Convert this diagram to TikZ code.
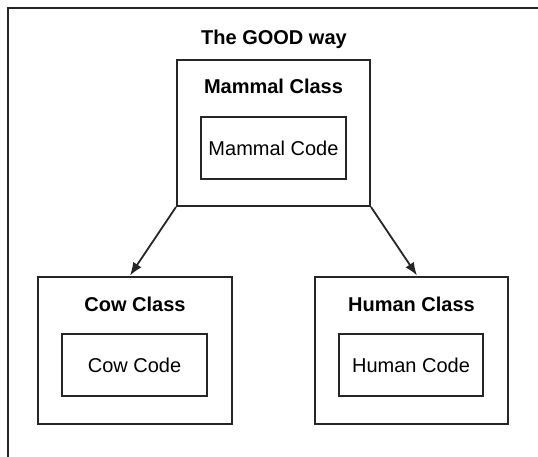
\documentclass[tikz,border=0pt]{standalone}
\usepackage{fontspec}
\setmainfont{Liberation Sans}
\usepackage{tikz}
\usetikzlibrary{arrows.meta, positioning, calc}

\begin{document}
\begin{tikzpicture}[x=1pt, y=-1pt,
    classbox/.style={draw=black!85, line width=2pt, rectangle, minimum width=193pt, minimum height=147pt, inner sep=0pt},
    codebox/.style={draw=black!85, line width=2pt, rectangle, minimum width=145pt, minimum height=62pt, inner sep=0pt, font=\fontsize{20}{24}\selectfont},
    classlbl/.style={anchor=base, inner sep=0pt, font=\fontsize{20}{24}\selectfont\bfseries},
    inherit/.style={line width=1.8pt, draw=black!85, -{Latex[length=13pt, width=10pt]}}]
  \useasboundingbox (0,0) rectangle (538,457);

  % Frame
  \draw[line width=1.8pt, black!85] (538,8) -- (8,8) -- (8,457);

  % Title
  \node[classlbl] (title) at (274,44.7) {The GOOD way};

  % Mammal
  \node[classbox, minimum height=146pt] (mammal) at (273.5,133) {};
  \node[classlbl] (mammallbl) at (273.5,94) {Mammal Class};
  \node[codebox] (mammalcode) at (273.5,148) {Mammal Code};

  % Cow
  \node[classbox, minimum width=194pt] (cow) at (135,350) {};
  \node[classlbl] (cowlbl) at (135,311) {Cow Class};
  \node[codebox] (cowcode) at (134.5,365) {Cow Code};

  % Human
  \node[classbox] (human) at (411.5,350) {};
  \node[classlbl] (humanlbl) at (411.5,311) {Human Class};
  \node[codebox, minimum width=144pt] (humancode) at (411,365) {Human Code};

  % Inheritance
  \draw[inherit] (mammal.south west) -- ([xshift=-5pt]cow.north);
  \draw[inherit] (mammal.south east) -- ([xshift=5.5pt]human.north);
\end{tikzpicture}
\end{document}
